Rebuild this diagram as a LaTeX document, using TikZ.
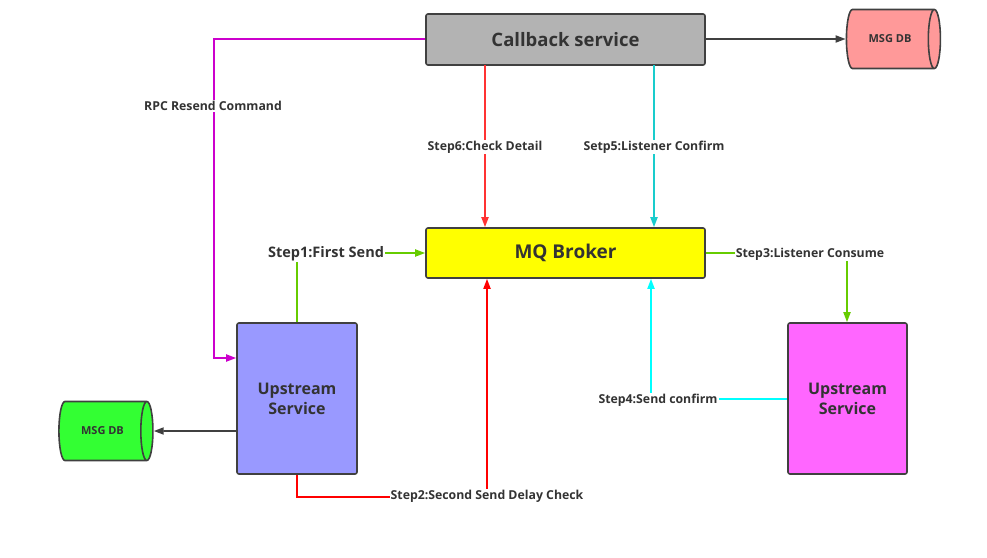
\documentclass[tikz,border=0pt]{standalone}
\usepackage{fontspec}
\setmainfont{Open Sans}
\usetikzlibrary{arrows.meta,shapes.geometric}
\definecolor{txt}{HTML}{333333}
\definecolor{edgecol}{HTML}{404040}
\definecolor{cbfill}{HTML}{B3B3B3}
\definecolor{pinkdb}{HTML}{FF9999}
\definecolor{brok}{HTML}{FFFF00}
\definecolor{upblue}{HTML}{9999FF}
\definecolor{upmag}{HTML}{FF66FF}
\definecolor{greendb}{HTML}{33FF33}
\definecolor{rpcline}{HTML}{CC00CC}
\definecolor{grline}{HTML}{66CC00}
\definecolor{redline}{HTML}{FF0000}
\definecolor{redsix}{HTML}{FF3333}
\definecolor{cyanline}{HTML}{00FFFF}
\definecolor{tealline}{HTML}{19CCCC}
\tikzset{
  box/.style={draw=edgecol, line width=1.6pt, rounded corners=2pt, text=txt, font=\bfseries, align=center, inner sep=0pt},
  db/.style={cylinder, shape border rotate=0, aspect=1.5, draw=edgecol, line width=1.6pt, cylinder uses custom fill, minimum width=59pt, minimum height=94pt, inner sep=0pt, text=txt, font=\bfseries\fontsize{11}{13}\selectfont},
  lbl/.style={fill=white, text=txt, font=\bfseries\fontsize{12.3}{14}\selectfont, inner sep=1pt},
  conn/.style={line width=1.8pt, -{Triangle[length=10pt,width=7pt]}}
}
\begin{document}
\begin{tikzpicture}[x=1pt,y=-1pt]
\useasboundingbox (0,0) rectangle (987,557);
% nodes
\node[box, fill=cbfill, minimum width=279pt, minimum height=51pt, font=\bfseries\fontsize{18.5}{20}\selectfont] (cb) at (565.5,39.5) {Callback service};
\node[box, fill=brok, minimum width=279pt, minimum height=50pt, font=\bfseries\fontsize{19}{20}\selectfont] (mq) at (565.5,253) {MQ Broker};
\node[box, fill=upblue, minimum width=120pt, minimum height=151pt, font=\bfseries\fontsize{16}{20}\selectfont] (ul) at (297,398.5) {Upstream\\Service};
\node[box, fill=upmag, minimum width=119pt, minimum height=151pt, font=\bfseries\fontsize{16}{20}\selectfont] (ur) at (847.5,398.5) {Upstream\\Service};
\node[db, cylinder body fill=pinkdb, cylinder end fill=pinkdb] (db1) at (890,39) {MSG DB\hspace{14pt}};
\node[db, cylinder body fill=greendb, cylinder end fill=greendb] (db2) at (102.5,431) {MSG DB\hspace{14pt}};
% coordinates
\coordinate (rpcA) at (214,39);
\coordinate (rpcB) at (214,358);
\coordinate (s1c) at (297,253);
\coordinate (s2a) at (297,497);
\coordinate (s2b) at (487,497);
\coordinate (s3c) at (847,253);
\coordinate (s4c) at (651,399);
\coordinate (s5a) at (654,65);
\coordinate (s6a) at (485,65);
% connectors
\draw[conn, color=edgecol] (cb.east |- db1) -- (db1.west);
\draw[conn, color=edgecol] (ul.west |- db2) -- (db2.east);
\draw[conn, color=rpcline] (cb.west |- rpcA) -- (rpcA) -- (rpcB) -- (ul.west |- rpcB);
\draw[conn, color=grline] (ul.north) -- (s1c) -- (mq.west);
\draw[conn, color=redline] (ul.south) -- (s2a) -- (s2b) -- (s2b |- mq.south);
\draw[conn, color=grline] (mq.east) -- (s3c) -- (s3c |- ur.north);
\draw[conn, color=cyanline] (ur.west |- s4c) -- (s4c) -- (s4c |- mq.south);
\draw[conn, color=tealline] (s5a) -- (s5a |- mq.north);
\draw[conn, color=redsix] (s6a) -- (s6a |- mq.north);
% labels
\node[lbl] (lrpc) at (213,106) {RPC Resend Command};
\node[lbl, font=\bfseries\fontsize{14.5}{16}\selectfont] (l1) at (326,254) {Step1:First Send};
\node[lbl] (l2) at (487,496) {Step2:Second Send Delay Check};
\node[lbl] (l3) at (810,254) {Step3:Listener Consume};
\node[lbl] (l4) at (658,400) {Step4:Send confirm};
\node[lbl] (l5) at (654,147) {Setp5:Listener Confirm};
\node[lbl] (l6) at (485,147) {Step6:Check Detail};
\end{tikzpicture}
\end{document}
